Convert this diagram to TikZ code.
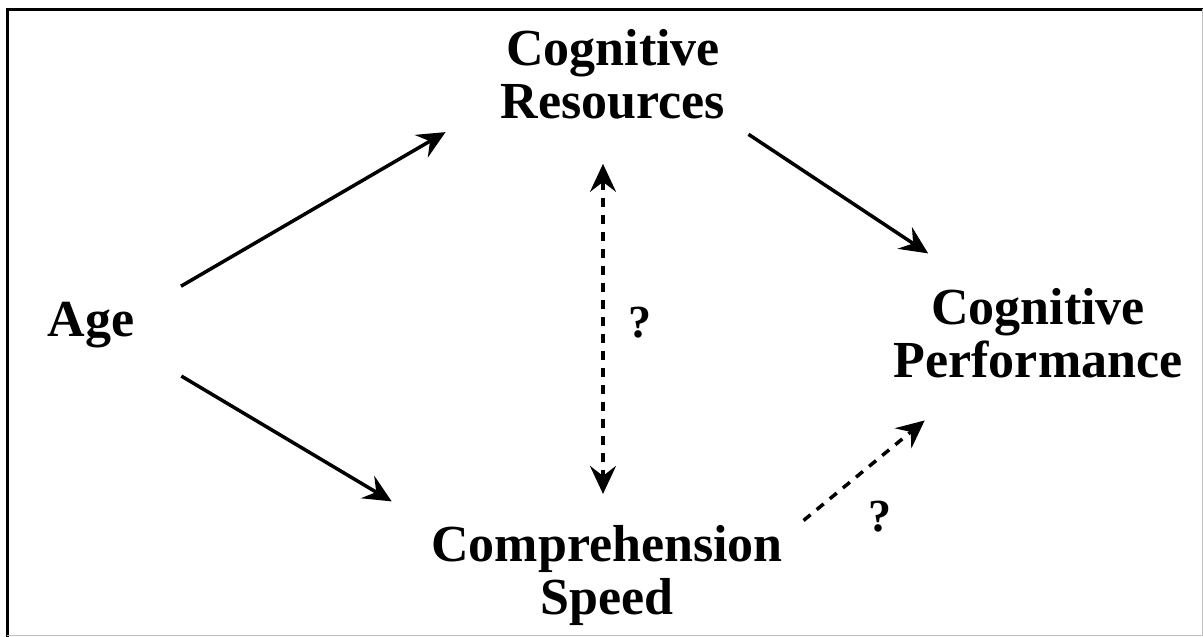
\documentclass[tikz,border=0pt]{standalone}
\usepackage{fontspec}
\setmainfont{Liberation Serif}
\usepackage{tikz}
\usetikzlibrary{
  arrows.meta,
  positioning,
  calc
}
\tikzset{
  concept/.style={
    align=center,
    inner sep=0pt,
    outer sep=0pt,
    font=\fontsize{52}{53}\selectfont\bfseries,
    text=black
  }
}
\tikzset{
  mark label/.style={
    inner sep=0pt,
    font=\fontsize{46}{46}\selectfont\bfseries
  }
}
\tikzset{
  path line/.style={
    line width=3.5pt,
    ->
  },
  guess line/.style={
    line width=3.5pt,
    dash pattern=on 9pt off 8pt,
    ->
  }
}

\begin{document}
\begin{tikzpicture}[x=1pt, y=-1pt, >={Stealth[length=28pt, width=26pt, inset=10pt]}]
    \useasboundingbox (0,0) rectangle (1203,637);
    \draw[line width=3pt] (7,637) -- (7,9) -- (1203,9);
    \draw[line width=1pt, black!25] (1202,9) -- (1202,635) -- (7,635);
    \node[concept] (age) at (91,325) {Age};
    \node[concept] (cogres) at (613,74) {Cognitive\\Resources};
    \node[concept] (cogperf) at (1038,333) {Cognitive\\Performance};
    \node[concept] (compspeed) at (607,575) {Comprehension\\Speed};
    \node[mark label] (q1) at (640,323) {?};
    \node[mark label] (q2) at (880,517) {?};
    \draw[path line, shorten <=54pt, shorten >=64pt] (age.15) -- (cogres.193);
    \draw[path line, shorten <=55pt, shorten >=46pt] (age.-28) -- (compspeed.north west);
    \draw[path line, shorten <=28pt, shorten >=63pt] (cogres.south east) -- (cogperf.142);
    \draw[guess line, <->, shorten <=45pt, shorten >=31pt]
    ([xshift=-10pt]cogres.south) -- ([xshift=-4pt]compspeed.north);
    \draw[guess line, shorten <=27pt, shorten >=67pt] (compspeed.12) -- (cogperf.216);
  \end{tikzpicture}
\end{document}
